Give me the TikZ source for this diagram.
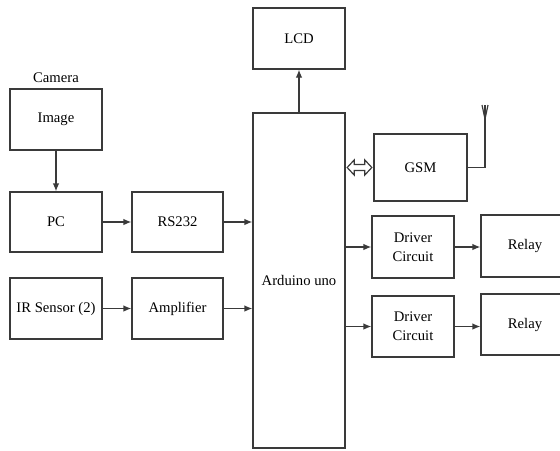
\documentclass[tikz,border=0pt]{standalone}
\usepackage{fontspec}
\setmainfont{Liberation Serif}
\usepackage{tikz}
\usetikzlibrary{arrows.meta,positioning,calc}
\usepackage{xcolor}
\definecolor{linegray}{HTML}{3A3A3A}

\begin{document}
\begin{tikzpicture}[x=0.75pt,y=-0.75pt,>={Latex[length=6pt,width=5pt]},font=\fontsize{11}{14.5}\selectfont,
  blk/.style={draw=linegray,line width=1pt,inner sep=1pt,align=center,minimum width=#1},
  blk/.default=69pt,
  con/.style={draw=linegray,line width=1pt,->}]
\useasboundingbox (0,0) rectangle (560,450);
\clip (0,0) rectangle (560,450);

% left column
\node[blk,minimum height=45.75pt] (img) at (56,119.5) {Image};
\node[above=1pt of img] (cam) {Camera};
\node[blk,minimum height=45pt] (pc) at (56,222) {PC};
\node[blk=68.25pt,minimum height=45pt] (rs) at (177.5,222) {RS232};
\node[blk,minimum height=45.75pt] (ir) at (56,308.5) {IR Sensor (2)};
\node[blk=68.25pt,minimum height=45.75pt] (amp) at (177.5,308.5) {Amplifier};

% controller
\node[blk,minimum height=251.25pt] (ard) at (299,280.5) {Arduino uno};
\node[blk,minimum height=45.75pt] (lcd) at (299,38.5) {LCD};
\node[blk=69.75pt,minimum height=50.25pt] (gsm) at (420.5,167.5) {GSM};

% outputs
\node[blk=61.5pt,minimum height=46.5pt] (drv1) at (413,247) {Driver\\Circuit};
\node[blk=66pt,minimum height=46.5pt] (rel1) at (525,246) {Relay};
\node[blk=61.5pt,minimum height=45.75pt] (drv2) at (413,326.5) {Driver\\Circuit};
\node[blk=66pt,minimum height=45.75pt] (rel2) at (525,324.5) {Relay};

\coordinate (ant) at (485,105);
\coordinate (dl) at ($(ard.east |- gsm)+(1.5,0)$);
\coordinate (dr) at ($(gsm.west)+(-1.5,0)$);

\draw[con] (img) -- (pc);
\draw[con] (pc) -- (rs);
\draw[con] (rs) -- (rs -| ard.west);
\draw[con] (ir) -- (amp);
\draw[con] (amp) -- (amp -| ard.west);
\draw[con] (ard) -- (lcd);
\draw[con] (ard.east |- drv1) -- (drv1);
\draw[con] (ard.east |- drv2) -- (drv2);
\draw[con] (drv1) -- (drv1 -| rel1.west);
\draw[con] (drv2) -- (drv2 -| rel2.west);
\draw[draw=linegray,line width=0.9pt,fill=white,line join=miter]
  (dl) -- ++(7,-7.5) -- ++(0,4.5) -- ($(dr)+(-7,-3)$) -- ++(0,-4.5) -- (dr)
  -- ++(-7,7.5) -- ++(0,-4.5) -- ($(dl)+(7,3)$) -- ++(0,4.5) -- cycle;

% antenna
\draw[draw=linegray,line width=1pt] (gsm.east) -| (ant);
\draw[draw=linegray,line width=0.9pt] ($(ant)+(0,14)$) -- ($(ant)+(-3,0)$)
  ($(ant)+(0,14)$) -- ($(ant)+(3,0)$);
\end{tikzpicture}
\end{document}
